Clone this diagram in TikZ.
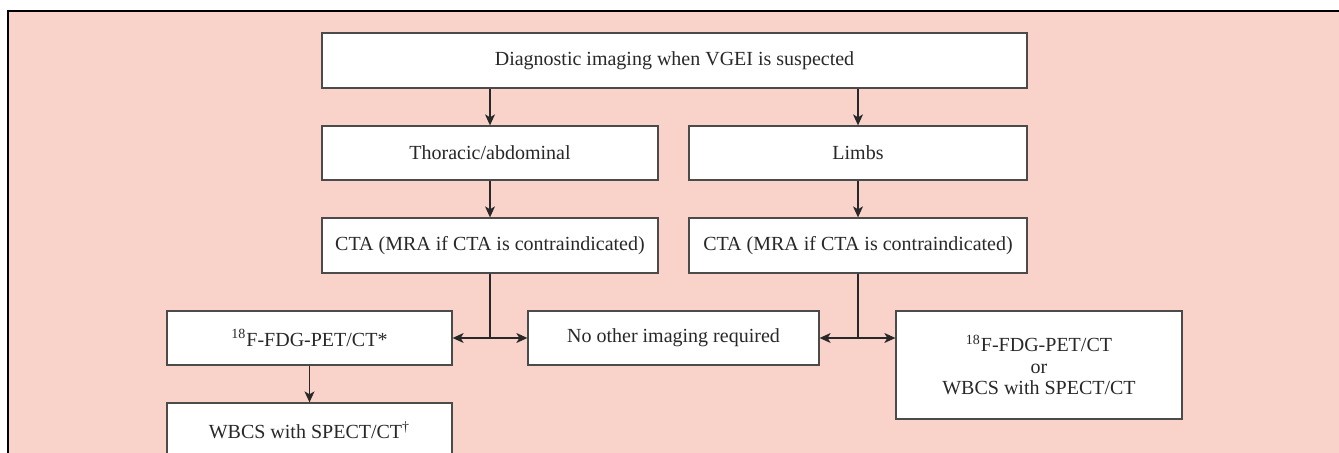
\documentclass[tikz,border=0pt]{standalone}
\usepackage{fontspec}
\setmainfont{Liberation Serif}
\usetikzlibrary{arrows.meta}
\definecolor{bgpink}{RGB}{249,211,202}
\definecolor{boxline}{RGB}{75,75,75}
\definecolor{inkgray}{RGB}{40,40,40}
\tikzset{
  flow box/.style 2 args={draw=boxline, line width=0.65pt, fill=white,
      text=inkgray, align=center, inner sep=0pt,
      minimum width=#1*0.5pt, minimum height=#2*0.5pt,
      font=\fontsize{10}{10.8}\selectfont},
  flow line/.style={draw=inkgray, line width=0.55pt},
  flow arrow/.style={flow line, -{Stealth[length=5.5pt,width=5pt,inset=1.5pt]}}
}

\begin{document}
\begin{tikzpicture}[x=0.5pt,y=-0.5pt]
\useasboundingbox (0,0) rectangle (1339,453);
\begin{scope}
\clip (0,0) rectangle (1339,453);
\fill[bgpink] (8,11) rectangle (1339,453);
\draw[black, line width=0.6pt] (8,453) -- (8,11) -- (1339,11);
\end{scope}

\node[flow box={705}{55}] (Suspect) at (674.5,60.5) {Diagnostic imaging when VGEI is suspected};
\node[flow box={336}{54}] (Thor) at (490,153) {Thoracic/abdominal};
\node[flow box={338}{54}] (Limb) at (858,153) {Limbs};
\node[flow box={336}{55}] (CtaThor) at (490,245.5) {CTA (MRA if CTA is contraindicated)};
\node[flow box={338}{55}] (CtaLimb) at (858,245.5) {CTA (MRA if CTA is contraindicated)};
\node[flow box={285}{54}] (Fdg) at (309.5,338) {\textsuperscript{18}F-FDG-PET/CT*};
\node[flow box={291}{54}] (NoImaging) at (673.5,338) {No other imaging required};
\node[flow box={286}{108}] (Alt) at (1039,365) {\textsuperscript{18}F-FDG-PET/CT\\or\\WBCS with SPECT/CT};
\node[flow box={285}{54}] (Wbcs) at (309.5,430) {WBCS with SPECT/CT\textsuperscript{\textdagger}};

\draw[flow arrow] (Thor.north |- Suspect.south) -- (Thor.north);
\draw[flow arrow] (Limb.north |- Suspect.south) -- (Limb.north);
\draw[flow arrow] (Thor) -- (CtaThor);
\draw[flow arrow] (Limb) -- (CtaLimb);

% split below the two CTA boxes
\coordinate (SplitThor) at (CtaThor.south |- Fdg.east);
\coordinate (SplitLimb) at (CtaLimb.south |- NoImaging.east);
\draw[flow line] (CtaThor.south) -- (SplitThor);
\draw[flow arrow] (SplitThor) -- (Fdg.east);
\draw[flow arrow] (SplitThor) -- (NoImaging.west);
\draw[flow line] (CtaLimb.south) -- (SplitLimb);
\draw[flow arrow] (SplitLimb) -- (NoImaging.east);
\draw[flow arrow] (SplitLimb) -- (SplitLimb -| Alt.west);

\draw[flow arrow] (Fdg) -- (Wbcs);
\end{tikzpicture}
\end{document}
